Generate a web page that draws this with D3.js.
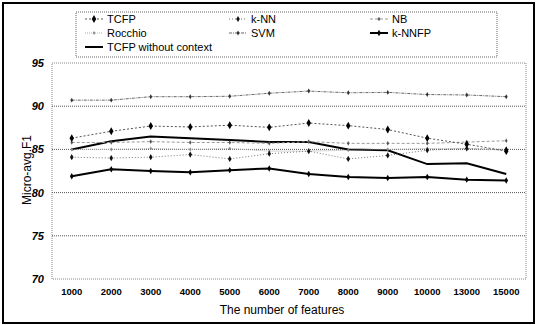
<!DOCTYPE html>
<html>
<head>
<meta charset="utf-8">
<script src="https://cdn.jsdelivr.net/npm/d3@7"></script>
<style>
  body { margin: 0; background: #fff; }
  text { font-family: "Liberation Sans", Arial, sans-serif; }
</style>
</head>
<body>
<div id="chart"></div>
<script>
// categories on the x axis (number of features)
var features = ["1000", "2000", "3000", "4000", "5000", "6000", "7000", "8000", "9000", "10000", "13000", "15000"];
var yTicks = [70, 75, 80, 85, 90, 95];

// series values
var tcfp      = [86.3, 87.1, 87.7, 87.6, 87.8, 87.55, 88.05, 87.75, 87.3, 86.3, 85.6, 84.8];
var knn       = [84.1, 84.0, 84.1, 84.4, 83.9, 84.5, 84.8, 83.9, 84.3, 84.9, 85.1, 85.0];
var nb        = [85.8, 85.8, 85.9, 85.8, 85.8, 85.7, 85.9, 85.7, 85.7, 85.7, 85.85, 86.0];
var rocchio   = [85.0, 85.0, 85.1, 85.0, 85.1, 84.8, 84.8, 84.9, 85.0, 85.1, 85.1, 84.9];
var svm       = [90.7, 90.7, 91.1, 91.1, 91.15, 91.5, 91.75, 91.55, 91.6, 91.35, 91.3, 91.1];
var knnfp     = [81.9, 82.7, 82.5, 82.35, 82.6, 82.8, 82.15, 81.8, 81.7, 81.8, 81.5, 81.4];
var tcfpNoCtx = [85.0, 85.95, 86.5, 86.3, 86.1, 85.85, 85.85, 85.0, 84.9, 83.3, 83.4, 82.15];

var series = [
  {name: "TCFP", values: tcfp, stroke: "#555", dash: "2,2", width: 1, marker: 18, mfill: "#000"},
  {name: "k-NN", values: knn, stroke: "#777", dash: "1,2", width: 1, marker: 11, mfill: "#111"},
  {name: "NB", values: nb, stroke: "#999", dash: "3,2", width: 1, marker: 6, mfill: "#555"},
  {name: "Rocchio", values: rocchio, stroke: "#aaa", dash: "1,1", width: 1, marker: 5, mfill: "#888"},
  {name: "SVM", values: svm, stroke: "#666", dash: "3,1,1,1", width: 1, marker: 7, mfill: "#333"},
  {name: "k-NNFP", values: knnfp, stroke: "#000", dash: null, width: 2, marker: 12, mfill: "#000"},
  {name: "TCFP without context", values: tcfpNoCtx, stroke: "#000", dash: null, width: 2, marker: 0, mfill: "#000"}
];

var W = 540, H = 325;
var svg = d3.select("#chart").append("svg")
    .attr("width", W)
    .attr("height", H);

// outer frame
svg.append("rect")
    .attr("x", 3).attr("y", 3)
    .attr("width", 531).attr("height", 320)
    .attr("fill", "none")
    .attr("stroke", "#000")
    .attr("stroke-width", 2);

var plot = {left: 52, right: 526, top: 63, bottom: 279};

var x = d3.scaleBand()
    .domain(features)
    .range([plot.left, plot.right]);

var y = d3.scaleLinear()
    .domain([70, 95])
    .range([plot.bottom, plot.top]);

// plot border (dotted)
svg.append("rect")
    .attr("x", plot.left).attr("y", plot.top)
    .attr("width", plot.right - plot.left)
    .attr("height", plot.bottom - plot.top)
    .attr("fill", "none")
    .attr("stroke", "#888")
    .attr("stroke-dasharray", "1,1");

// gridlines
svg.append("g")
  .selectAll("line")
  .data(yTicks.slice(1, -1))
  .join("line")
    .attr("x1", plot.left).attr("x2", plot.right)
    .attr("y1", function(d) { return y(d); })
    .attr("y2", function(d) { return y(d); })
    .attr("stroke", "#555")
    .attr("stroke-dasharray", "1,1");

// y axis
var yAxis = svg.append("g")
    .attr("transform", "translate(" + plot.left + ",0)")
    .call(d3.axisLeft(y).tickValues(yTicks).tickSize(0).tickPadding(8));
yAxis.select(".domain").remove();
yAxis.selectAll("text")
    .attr("font-size", 11)
    .attr("font-weight", "bold")
    .attr("font-style", "italic")
    .attr("fill", "#000");

// x axis
var xAxis = svg.append("g")
    .attr("transform", "translate(0," + plot.bottom + ")")
    .call(d3.axisBottom(x).tickSize(0).tickPadding(9));
xAxis.select(".domain").remove();
xAxis.selectAll("text")
    .attr("font-size", 9.5)
    .attr("font-weight", "bold")
    .attr("fill", "#000");

// axis titles
svg.append("text")
    .attr("x", 282).attr("y", 314)
    .attr("text-anchor", "middle")
    .attr("font-size", 12)
    .text("The number of features");

svg.append("text")
    .attr("transform", "translate(31,170) rotate(-90)")
    .attr("text-anchor", "middle")
    .attr("font-size", 12)
    .text("Micro-avg.F1");

var line = d3.line()
    .x(function(d, i) { return x(features[i]) + x.bandwidth() / 2; })
    .y(function(d) { return y(d); });

// lines, drawn in reverse so TCFP ends on top
series.slice().reverse().forEach(function(s) {
  svg.append("path")
      .datum(s.values)
      .attr("fill", "none")
      .attr("stroke", s.stroke)
      .attr("stroke-width", s.width)
      .attr("stroke-dasharray", s.dash)
      .attr("d", line);

  if (s.marker > 0) {
    svg.append("g")
      .selectAll("path")
      .data(s.values)
      .join("path")
        .attr("transform", function(d, i) {
          return "translate(" + (x(features[i]) + x.bandwidth() / 2) + "," + y(d) + ")";
        })
        .attr("d", d3.symbol(d3.symbolDiamond, s.marker))
        .attr("fill", s.mfill);
  }
});

// legend
var legend = svg.append("g");
legend.append("rect")
    .attr("x", 76).attr("y", 12)
    .attr("width", 421).attr("height", 45)
    .attr("fill", "#fff")
    .attr("stroke", "#666")
    .attr("stroke-dasharray", "1,1");

var legCols = [85, 229, 370];
var legRows = [19, 33, 47];
series.forEach(function(s, i) {
  var lx = legCols[i % 3], ly = legRows[Math.floor(i / 3)];
  var g = legend.append("g").attr("transform", "translate(" + lx + "," + ly + ")");
  g.append("line")
      .attr("x1", 0).attr("x2", 18)
      .attr("stroke", s.stroke)
      .attr("stroke-width", s.width)
      .attr("stroke-dasharray", s.dash);
  if (s.marker > 0) {
    g.append("path")
        .attr("transform", "translate(9,0)")
        .attr("d", d3.symbol(d3.symbolDiamond, s.marker))
        .attr("fill", s.mfill);
  }
  g.append("text")
      .attr("x", 22)
      .attr("dy", "0.35em")
      .attr("font-size", 11)
      .text(s.name);
});
</script>
</body>
</html>
